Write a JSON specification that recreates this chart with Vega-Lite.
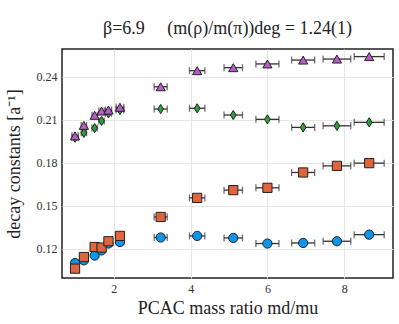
{
  "$schema": "https://vega.github.io/schema/vega-lite/v6.json",
  "width": 331,
  "height": 229,
  "autosize": "none",
  "padding": {"left": 62, "top": 49, "right": 6, "bottom": 46},
  "title": {"text": "β=6.9\u00a0\u00a0\u00a0\u00a0\u00a0(m(ρ)/m(π))deg = 1.24(1)", "fontSize": 18, "fontWeight": "normal", "color": "#222", "offset": 11, "anchor": "middle"},
  "config": {
    "font": "Liberation Serif",
    "title": {"font": "Liberation Serif"},
    "view": {"stroke": "#222", "strokeWidth": 1.5},
    "axis": {"labelFont": "Liberation Serif", "labelFontSize": 12, "labelColor": "#333", "titleFont": "Liberation Serif", "titleFontSize": 18, "titleFontWeight": "normal", "titleColor": "#222", "grid": true, "gridColor": "#e6e6e6", "gridWidth": 1, "ticks": false, "domain": false, "labelPadding": 5}
  },
  "data": {"values": [
    {"series": "b", "x": 0.99, "xlo": 0.91, "xhi": 1.07, "y": 0.1102},
    {"series": "b", "x": 1.22, "xlo": 1.15, "xhi": 1.29, "y": 0.1121},
    {"series": "b", "x": 1.5, "xlo": 1.43, "xhi": 1.57, "y": 0.1154},
    {"series": "b", "x": 1.68, "xlo": 1.61, "xhi": 1.75, "y": 0.119},
    {"series": "b", "x": 1.86, "xlo": 1.78, "xhi": 1.94, "y": 0.1238},
    {"series": "b", "x": 2.16, "xlo": 2.06, "xhi": 2.26, "y": 0.1249},
    {"series": "b", "x": 3.22, "xlo": 3.05, "xhi": 3.39, "y": 0.128},
    {"series": "b", "x": 4.17, "xlo": 3.97, "xhi": 4.37, "y": 0.1291},
    {"series": "b", "x": 5.11, "xlo": 4.87, "xhi": 5.35, "y": 0.1277},
    {"series": "b", "x": 6.0, "xlo": 5.7, "xhi": 6.3, "y": 0.1238},
    {"series": "b", "x": 6.93, "xlo": 6.63, "xhi": 7.23, "y": 0.1242},
    {"series": "b", "x": 7.81, "xlo": 7.45, "xhi": 8.17, "y": 0.1254},
    {"series": "b", "x": 8.65, "xlo": 8.26, "xhi": 9.04, "y": 0.13},
    {"series": "o", "x": 0.99, "xlo": 0.91, "xhi": 1.07, "y": 0.1063},
    {"series": "o", "x": 1.22, "xlo": 1.15, "xhi": 1.29, "y": 0.1144},
    {"series": "o", "x": 1.5, "xlo": 1.43, "xhi": 1.57, "y": 0.1214},
    {"series": "o", "x": 1.68, "xlo": 1.61, "xhi": 1.75, "y": 0.121},
    {"series": "o", "x": 1.86, "xlo": 1.78, "xhi": 1.94, "y": 0.1254},
    {"series": "o", "x": 2.16, "xlo": 2.06, "xhi": 2.26, "y": 0.1291},
    {"series": "o", "x": 3.22, "xlo": 3.05, "xhi": 3.39, "y": 0.1423},
    {"series": "o", "x": 4.17, "xlo": 3.97, "xhi": 4.37, "y": 0.1556},
    {"series": "o", "x": 5.11, "xlo": 4.87, "xhi": 5.35, "y": 0.161},
    {"series": "o", "x": 6.0, "xlo": 5.7, "xhi": 6.3, "y": 0.1626},
    {"series": "o", "x": 6.93, "xlo": 6.63, "xhi": 7.23, "y": 0.1733},
    {"series": "o", "x": 7.81, "xlo": 7.45, "xhi": 8.17, "y": 0.1779},
    {"series": "o", "x": 8.65, "xlo": 8.26, "xhi": 9.04, "y": 0.1798},
    {"series": "g", "x": 0.99, "xlo": 0.91, "xhi": 1.07, "y": 0.1975},
    {"series": "g", "x": 1.22, "xlo": 1.15, "xhi": 1.29, "y": 0.2009},
    {"series": "g", "x": 1.5, "xlo": 1.43, "xhi": 1.57, "y": 0.2042},
    {"series": "g", "x": 1.68, "xlo": 1.61, "xhi": 1.75, "y": 0.2092},
    {"series": "g", "x": 1.86, "xlo": 1.78, "xhi": 1.94, "y": 0.2145},
    {"series": "g", "x": 2.16, "xlo": 2.06, "xhi": 2.26, "y": 0.2168},
    {"series": "g", "x": 3.22, "xlo": 3.05, "xhi": 3.39, "y": 0.2175},
    {"series": "g", "x": 4.17, "xlo": 3.97, "xhi": 4.37, "y": 0.218},
    {"series": "g", "x": 5.11, "xlo": 4.87, "xhi": 5.35, "y": 0.2133},
    {"series": "g", "x": 6.0, "xlo": 5.7, "xhi": 6.3, "y": 0.2103},
    {"series": "g", "x": 6.93, "xlo": 6.63, "xhi": 7.23, "y": 0.2047},
    {"series": "g", "x": 7.81, "xlo": 7.45, "xhi": 8.17, "y": 0.2058},
    {"series": "g", "x": 8.65, "xlo": 8.26, "xhi": 9.04, "y": 0.2082},
    {"series": "p", "x": 0.99, "xlo": 0.91, "xhi": 1.07, "y": 0.1988},
    {"series": "p", "x": 1.22, "xlo": 1.15, "xhi": 1.29, "y": 0.2061},
    {"series": "p", "x": 1.5, "xlo": 1.43, "xhi": 1.57, "y": 0.2131},
    {"series": "p", "x": 1.68, "xlo": 1.61, "xhi": 1.75, "y": 0.2161},
    {"series": "p", "x": 1.86, "xlo": 1.78, "xhi": 1.94, "y": 0.2168},
    {"series": "p", "x": 2.16, "xlo": 2.06, "xhi": 2.26, "y": 0.2187},
    {"series": "p", "x": 3.22, "xlo": 3.05, "xhi": 3.39, "y": 0.233},
    {"series": "p", "x": 4.17, "xlo": 3.97, "xhi": 4.37, "y": 0.2442},
    {"series": "p", "x": 5.11, "xlo": 4.87, "xhi": 5.35, "y": 0.2463},
    {"series": "p", "x": 6.0, "xlo": 5.7, "xhi": 6.3, "y": 0.2489},
    {"series": "p", "x": 6.93, "xlo": 6.63, "xhi": 7.23, "y": 0.2516},
    {"series": "p", "x": 7.81, "xlo": 7.45, "xhi": 8.17, "y": 0.2523},
    {"series": "p", "x": 8.65, "xlo": 8.26, "xhi": 9.04, "y": 0.254}
  ]},
  "layer": [
    {
      "mark": {"type": "rule", "color": "#333", "strokeWidth": 1.3},
      "encoding": {
        "x": {"field": "xlo", "type": "quantitative", "scale": {"domain": [0.65, 9.27], "nice": false, "zero": false}, "axis": {"values": [2, 4, 6, 8], "format": "d", "title": "PCAC mass ratio md/mu", "titlePadding": 5}},
        "x2": {"field": "xhi"},
        "y": {"field": "y", "type": "quantitative", "scale": {"domain": [0.0998, 0.2593], "nice": false, "zero": false}, "axis": {"values": [0.12, 0.15, 0.18, 0.21, 0.24], "format": ".2f", "title": "decay constants [a⁻¹]", "titlePadding": 13}}
      }
    },
    {
      "mark": {"type": "tick", "orient": "vertical", "color": "#333", "size": 7, "thickness": 1.3},
      "encoding": {
        "x": {"field": "xlo", "type": "quantitative"},
        "y": {"field": "y", "type": "quantitative"}
      }
    },
    {
      "mark": {"type": "tick", "orient": "vertical", "color": "#333", "size": 7, "thickness": 1.3},
      "encoding": {
        "x": {"field": "xhi", "type": "quantitative"},
        "y": {"field": "y", "type": "quantitative"}
      }
    },
    {
      "mark": {"type": "point", "filled": true, "stroke": "#222", "strokeWidth": 1, "opacity": 1, "size": 85},
      "encoding": {
        "x": {"field": "x", "type": "quantitative"},
        "y": {"field": "y", "type": "quantitative"},
        "color": {"field": "series", "type": "nominal", "scale": {"domain": ["b", "o", "g", "p"], "range": ["#0a96ec", "#e0643c", "#2e9e3c", "#b85cc8"]}, "legend": null},
        "shape": {"field": "series", "type": "nominal", "scale": {"domain": ["b", "o", "g", "p"], "range": ["circle", "square", "M0,-1L0.62,0L0,1L-0.62,0Z", "triangle-up"]}, "legend": null}
      }
    }
  ]
}
